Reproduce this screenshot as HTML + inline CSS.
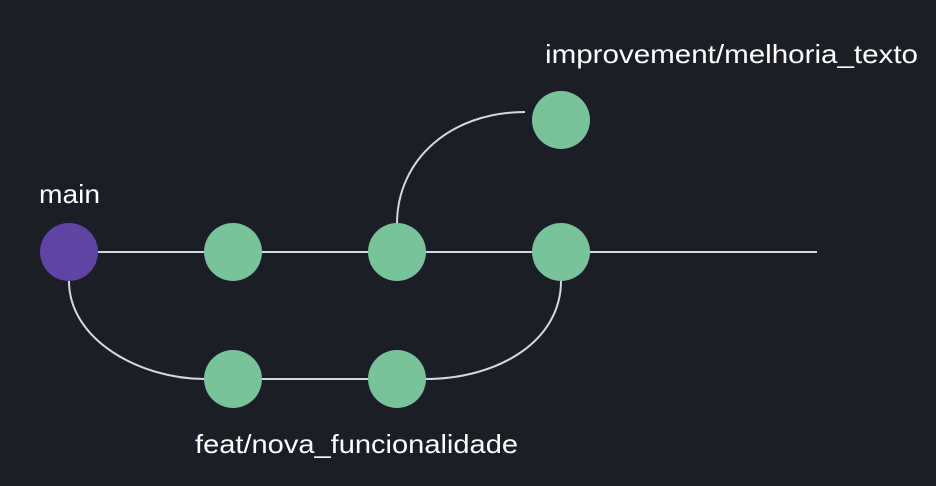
<!DOCTYPE html>
<html><head><style>
html,body{margin:0;padding:0;background:#1b1d27;}
svg{display:block}
text{font-family:"Liberation Sans",sans-serif;fill:#fff;font-size:26px}
</style></head><body>
<svg width="936" height="486" viewBox="0 0 936 486">
<rect width="936" height="486" fill="#1b1d27"/>
<g stroke="#d8d8dc" stroke-width="2" fill="none">
<line x1="98" y1="252" x2="817" y2="252"/>
<line x1="262" y1="379" x2="368" y2="379"/>
<path d="M69 281 C69 340 140 379 205 379"/>
<path d="M425 379 C500 379 561 340 561 281"/>
<path d="M397 224 C397 160 450 112 525 112"/>
</g>
<circle cx="69" cy="252" r="29" fill="#5f44a4"/>
<g fill="#78c39a">
<circle cx="233" cy="252" r="29"/>
<circle cx="397" cy="252" r="29"/>
<circle cx="561" cy="252" r="29"/>
<circle cx="561" cy="120" r="29"/>
<circle cx="233" cy="379" r="29"/>
<circle cx="397" cy="379" r="29"/>
</g>
<text x="39" y="203" textLength="61" lengthAdjust="spacingAndGlyphs">main</text>
<text x="545" y="63" textLength="373" lengthAdjust="spacingAndGlyphs">improvement/melhoria_texto</text>
<text x="195" y="453" textLength="323" lengthAdjust="spacingAndGlyphs">feat/nova_funcionalidade</text>
</svg>
</body></html>
